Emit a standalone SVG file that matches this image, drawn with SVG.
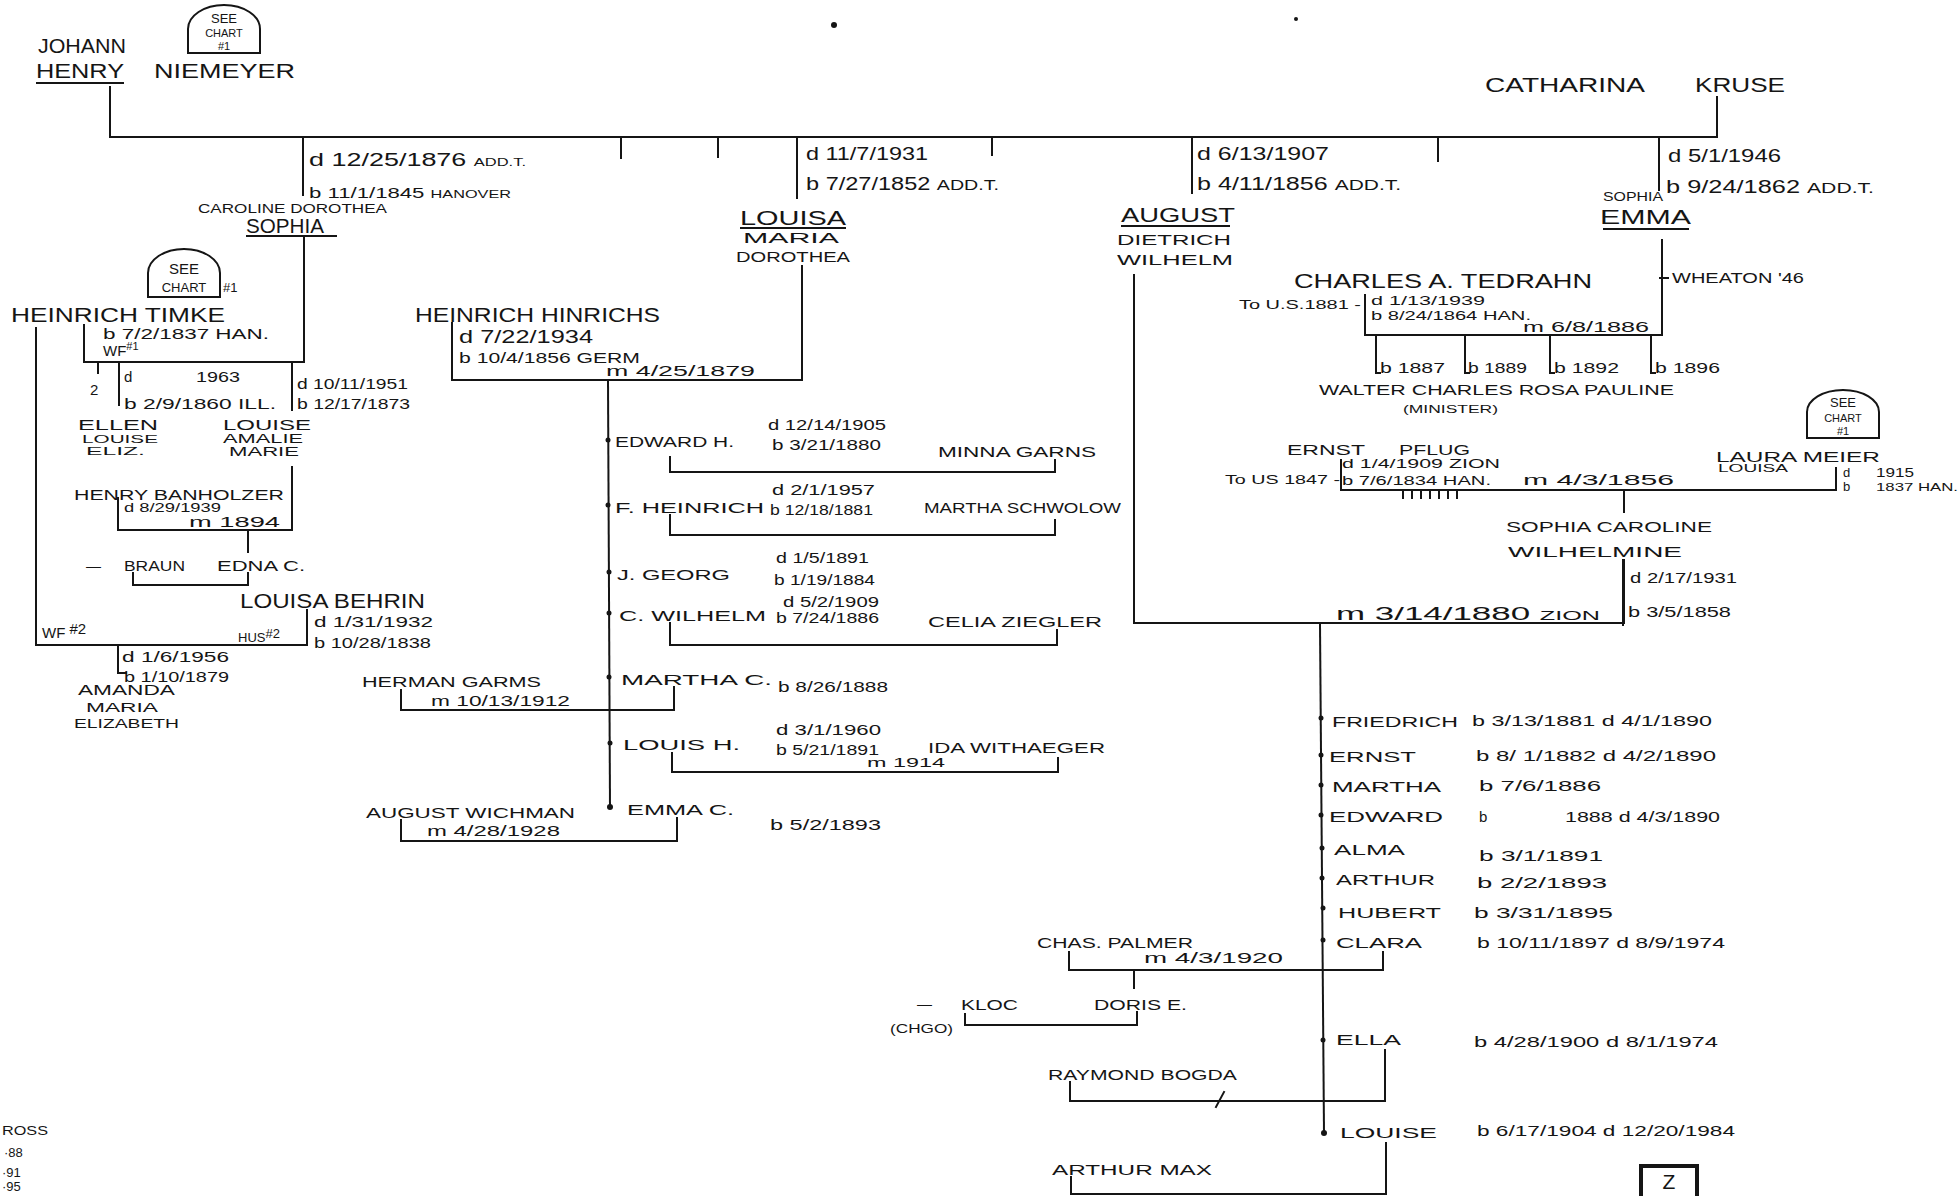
<svg xmlns="http://www.w3.org/2000/svg" width="1959" height="1196" viewBox="0 0 1959 1196">
<style>
text{font-family:"Liberation Sans",Arial,sans-serif;fill:#151515}
.n{font-size:20px}
.d{font-size:18px}
.m{font-size:15px}
.s{font-size:13px}
.xs{font-size:11px}
.c{fill:none;stroke:#151515;stroke-width:2;stroke-linecap:square}
.t{fill:none;stroke:#151515;stroke-width:2}
.dot{fill:#151515}
</style>
<rect width="1959" height="1196" fill="#fff"/>

<g id="connectors" class="c">
<path d="M110,87 V137 H1717 V97"/>
<path d="M621,137 V158 M718,137 V157 M992,137 V155 M1438,137 V161"/>
<path d="M303,137 V195 M797,137 V198 M1192,137 V193 M1659,137 V190"/>
<path d="M304,237 V362 H84 V325"/>
<path d="M36,328 V645 H307 V610"/>
<path d="M98,362 V373 M119,362 V405 M292,362 V410"/>
<path d="M292,467 V530 H118 V498 M248,530 V552"/>
<path d="M133,573 V585 H248 V573"/>
<path d="M118,645 V673 H126"/>
<path d="M452,323 V380 H802 V266"/>
<path d="M608,380 L610,807"/>
<path d="M670,457 V472 H1055 V460"/>
<path d="M670,515 V535 H1055 V520"/>
<path d="M670,623 V645 H1057 V630"/>
<path d="M401,690 V710 H674 V687"/>
<path d="M672,753 V772 H1058 V758"/>
<path d="M401,820 V841 H677 V818"/>
<path d="M1134,275 V623 H1624 V560"/>
<path d="M1365,295 V335 H1662 V240"/>
<path d="M1660,278 H1668"/>
<path d="M1376,335 V373 H1380 M1465,335 V373 H1469 M1550,335 V373 H1554 M1651,335 V373 H1655"/>
<path d="M1341,460 V490 H1836 V468"/>
<path d="M1403,492 V498 M1412,492 V498 M1421,492 V498 M1430,492 V498 M1439,492 V498 M1448,492 V498 M1457,492 V498"/>
<path d="M1624,490 V512 M1623,560 V625"/>
<path d="M1320,625 L1324,1133"/>
<path d="M1069,952 V970 H1383 V952 M1134,970 V988"/>
<path d="M965,1014 V1025 H1137 V1012"/>
<path d="M1070,1082 V1101 H1385 V1050 M1216,1107 L1224,1092"/>
<path d="M1071,1177 V1194 H1386 V1143"/>
</g>
<g id="child-dots" class="dot">
<circle cx="608" cy="440" r="2.5"/><circle cx="608" cy="505" r="2.5"/><circle cx="609" cy="572" r="2.5"/><circle cx="609" cy="613" r="2.5"/><circle cx="609" cy="677" r="2.5"/><circle cx="610" cy="743" r="2.5"/><circle cx="610" cy="807" r="3"/>
<circle cx="1321" cy="718" r="2.5"/><circle cx="1321" cy="755" r="2.5"/><circle cx="1321" cy="785" r="2.5"/><circle cx="1321" cy="815" r="2.5"/><circle cx="1322" cy="848" r="2.5"/><circle cx="1322" cy="878" r="2.5"/><circle cx="1323" cy="908" r="2.5"/><circle cx="1323" cy="940" r="2.5"/><circle cx="1323" cy="1040" r="2.5"/><circle cx="1324" cy="1133" r="3"/>
<circle cx="834" cy="25" r="3"/><circle cx="1296" cy="19" r="2"/>
</g>

<g id="n-johann">
<text class="n" x="38" y="53" textLength="88" lengthAdjust="spacingAndGlyphs">JOHANN</text>
<text class="n" x="36" y="78" textLength="88" lengthAdjust="spacingAndGlyphs">HENRY</text>
<path class="t" d="M36,83 H124"/>
<text class="n" x="154" y="78" textLength="141" lengthAdjust="spacingAndGlyphs">NIEMEYER</text>
<path class="t" d="M188,53 V29 A36,24 0 0 1 260,29 V53 Z"/>
<text class="s" x="224" y="23" text-anchor="middle">SEE</text>
<text class="xs" x="224" y="37" text-anchor="middle">CHART</text>
<text class="xs" x="224" y="50" text-anchor="middle">#1</text>
</g>

<g id="n-catharina">
<text class="n" x="1485" y="92" textLength="160" lengthAdjust="spacingAndGlyphs">CATHARINA</text>
<text class="n" x="1695" y="92" textLength="90" lengthAdjust="spacingAndGlyphs">KRUSE</text>
</g>

<g id="n-sophia">
<text class="d" x="309" y="166" textLength="217" lengthAdjust="spacingAndGlyphs">d 12/25/1876 <tspan class="xs">ADD.T.</tspan></text>
<text class="m" x="309" y="198" textLength="202" lengthAdjust="spacingAndGlyphs">b 11/1/1845 <tspan class="xs">HANOVER</tspan></text>
<text class="s" x="198" y="213" textLength="189" lengthAdjust="spacingAndGlyphs">CAROLINE DOROTHEA</text>
<text class="n" x="246" y="233" textLength="78" lengthAdjust="spacingAndGlyphs">SOPHIA</text>
<path class="t" d="M246,236 H337"/>
</g>

<g id="n-timke">
<path class="t" d="M148,297 V273 A36,24 0 0 1 220,273 V297 Z"/>
<text class="m" x="184" y="274" text-anchor="middle">SEE</text>
<text class="s" x="184" y="292" text-anchor="middle">CHART</text>
<text class="s" x="223" y="292">#1</text>
<text class="n" x="11" y="322" textLength="214" lengthAdjust="spacingAndGlyphs">HEINRICH  TIMKE</text>
<text class="m" x="103" y="339" textLength="166" lengthAdjust="spacingAndGlyphs">b 7/2/1837 HAN.</text>
<text class="m" x="103" y="356">WF<tspan class="xs" dy="-6">#1</tspan></text>
<text class="m" x="90" y="395">2</text>
</g>

<g id="n-ellen">
<text class="m" x="124" y="382">d</text>
<text class="m" x="196" y="382" textLength="44" lengthAdjust="spacingAndGlyphs">1963</text>
<text class="m" x="124" y="409" textLength="152" lengthAdjust="spacingAndGlyphs">b 2/9/1860 ILL.</text>
<text class="m" x="78" y="430" textLength="80" lengthAdjust="spacingAndGlyphs">ELLEN</text>
<text class="xs" x="82" y="443" textLength="76" lengthAdjust="spacingAndGlyphs">LOUISE</text>
<text class="xs" x="86" y="455" textLength="59" lengthAdjust="spacingAndGlyphs">ELIZ.</text>
</g>

<g id="n-louise-timke">
<text class="m" x="297" y="389" textLength="111" lengthAdjust="spacingAndGlyphs">d 10/11/1951</text>
<text class="m" x="297" y="409" textLength="113" lengthAdjust="spacingAndGlyphs">b 12/17/1873</text>
<text class="m" x="223" y="430" textLength="88" lengthAdjust="spacingAndGlyphs">LOUISE</text>
<text class="s" x="223" y="443" textLength="80" lengthAdjust="spacingAndGlyphs">AMALIE</text>
<text class="s" x="229" y="456" textLength="70" lengthAdjust="spacingAndGlyphs">MARIE</text>
</g>

<g id="n-banholzer">
<text class="m" x="74" y="500" textLength="210" lengthAdjust="spacingAndGlyphs">HENRY BANHOLZER</text>
<text class="s" x="124" y="512" textLength="97" lengthAdjust="spacingAndGlyphs">d 8/29/1939</text>
<text class="m" x="189" y="527" textLength="91" lengthAdjust="spacingAndGlyphs">m 1894</text>
</g>

<g id="n-edna">
<text class="m" x="86" y="571">—</text>
<text class="m" x="124" y="571" textLength="61" lengthAdjust="spacingAndGlyphs">BRAUN</text>
<text class="m" x="217" y="571" textLength="88" lengthAdjust="spacingAndGlyphs">EDNA C.</text>
</g>

<g id="n-behrin">
<text class="n" x="240" y="608" textLength="185" lengthAdjust="spacingAndGlyphs">LOUISA BEHRIN</text>
<text class="m" x="314" y="627" textLength="119" lengthAdjust="spacingAndGlyphs">d 1/31/1932</text>
<text class="m" x="314" y="648" textLength="117" lengthAdjust="spacingAndGlyphs">b 10/28/1838</text>
<text class="m" x="42" y="638">WF <tspan dy="-4">#2</tspan></text>
<text class="s" x="238" y="642">HUS<tspan dy="-4">#2</tspan></text>
</g>

<g id="n-amanda">
<text class="m" x="122" y="662" textLength="107" lengthAdjust="spacingAndGlyphs">d 1/6/1956</text>
<text class="m" x="124" y="682" textLength="105" lengthAdjust="spacingAndGlyphs">b 1/10/1879</text>
<text class="m" x="78" y="695" textLength="97" lengthAdjust="spacingAndGlyphs">AMANDA</text>
<text class="s" x="86" y="712" textLength="72" lengthAdjust="spacingAndGlyphs">MARIA</text>
<text class="s" x="74" y="728" textLength="105" lengthAdjust="spacingAndGlyphs">ELIZABETH</text>
</g>

<g id="n-louisa">
<text class="d" x="806" y="160" textLength="122" lengthAdjust="spacingAndGlyphs">d 11/7/1931</text>
<text class="d" x="806" y="190" textLength="193" lengthAdjust="spacingAndGlyphs">b 7/27/1852 <tspan class="m">ADD.T.</tspan></text>
<text class="n" x="740" y="225" textLength="106" lengthAdjust="spacingAndGlyphs">LOUISA</text>
<path class="t" d="M740,228 H846"/>
<text class="m" x="743" y="243" textLength="96" lengthAdjust="spacingAndGlyphs">MARIA</text>
<text class="m" x="736" y="262" textLength="114" lengthAdjust="spacingAndGlyphs">DOROTHEA</text>
</g>

<g id="n-hinrichs">
<text class="n" x="415" y="322" textLength="245" lengthAdjust="spacingAndGlyphs">HEINRICH HINRICHS</text>
<text class="d" x="459" y="343" textLength="134" lengthAdjust="spacingAndGlyphs">d 7/22/1934</text>
<text class="m" x="459" y="363" textLength="181" lengthAdjust="spacingAndGlyphs">b 10/4/1856 GERM</text>
<text class="m" x="606" y="376" textLength="149" lengthAdjust="spacingAndGlyphs">m 4/25/1879</text>
</g>

<g id="n-edward-h">
<text class="m" x="615" y="447" textLength="119" lengthAdjust="spacingAndGlyphs">EDWARD H.</text>
<text class="m" x="768" y="430" textLength="118" lengthAdjust="spacingAndGlyphs">d 12/14/1905</text>
<text class="m" x="772" y="450" textLength="109" lengthAdjust="spacingAndGlyphs">b 3/21/1880</text>
<text class="m" x="938" y="457" textLength="158" lengthAdjust="spacingAndGlyphs">MINNA GARNS</text>
</g>

<g id="n-f-heinrich">
<text class="m" x="615" y="513" textLength="149" lengthAdjust="spacingAndGlyphs">F. HEINRICH</text>
<text class="m" x="772" y="495" textLength="103" lengthAdjust="spacingAndGlyphs">d 2/1/1957</text>
<text class="m" x="770" y="515" textLength="103" lengthAdjust="spacingAndGlyphs">b 12/18/1881</text>
<text class="m" x="924" y="513" textLength="197" lengthAdjust="spacingAndGlyphs">MARTHA SCHWOLOW</text>
</g>

<g id="n-j-georg">
<text class="m" x="617" y="580" textLength="113" lengthAdjust="spacingAndGlyphs">J. GEORG</text>
<text class="m" x="776" y="563" textLength="93" lengthAdjust="spacingAndGlyphs">d 1/5/1891</text>
<text class="m" x="774" y="585" textLength="101" lengthAdjust="spacingAndGlyphs">b 1/19/1884</text>
</g>

<g id="n-c-wilhelm">
<text class="m" x="619" y="621" textLength="147" lengthAdjust="spacingAndGlyphs">C. WILHELM</text>
<text class="m" x="783" y="607" textLength="96" lengthAdjust="spacingAndGlyphs">d 5/2/1909</text>
<text class="m" x="776" y="623" textLength="103" lengthAdjust="spacingAndGlyphs">b 7/24/1886</text>
<text class="m" x="928" y="627" textLength="174" lengthAdjust="spacingAndGlyphs">CELIA ZIEGLER</text>
</g>

<g id="n-martha-c">
<text class="m" x="621" y="685" textLength="151" lengthAdjust="spacingAndGlyphs">MARTHA  C.</text>
<text class="m" x="778" y="692" textLength="110" lengthAdjust="spacingAndGlyphs">b 8/26/1888</text>
<text class="m" x="362" y="687" textLength="179" lengthAdjust="spacingAndGlyphs">HERMAN GARMS</text>
<text class="m" x="431" y="706" textLength="139" lengthAdjust="spacingAndGlyphs">m 10/13/1912</text>
</g>

<g id="n-louis-h">
<text class="m" x="623" y="750" textLength="117" lengthAdjust="spacingAndGlyphs">LOUIS  H.</text>
<text class="m" x="776" y="735" textLength="105" lengthAdjust="spacingAndGlyphs">d 3/1/1960</text>
<text class="m" x="776" y="755" textLength="103" lengthAdjust="spacingAndGlyphs">b 5/21/1891</text>
<text class="m" x="928" y="753" textLength="177" lengthAdjust="spacingAndGlyphs">IDA WITHAEGER</text>
<text class="s" x="867" y="767" textLength="78" lengthAdjust="spacingAndGlyphs">m 1914</text>
</g>

<g id="n-emma-c">
<text class="m" x="627" y="815" textLength="107" lengthAdjust="spacingAndGlyphs">EMMA  C.</text>
<text class="m" x="770" y="830" textLength="111" lengthAdjust="spacingAndGlyphs">b 5/2/1893</text>
<text class="m" x="366" y="818" textLength="209" lengthAdjust="spacingAndGlyphs">AUGUST WICHMAN</text>
<text class="m" x="427" y="836" textLength="133" lengthAdjust="spacingAndGlyphs">m 4/28/1928</text>
</g>

<g id="n-august">
<text class="d" x="1197" y="160" textLength="132" lengthAdjust="spacingAndGlyphs">d 6/13/1907</text>
<text class="d" x="1197" y="190" textLength="204" lengthAdjust="spacingAndGlyphs">b 4/11/1856 <tspan class="m">ADD.T.</tspan></text>
<text class="n" x="1121" y="222" textLength="114" lengthAdjust="spacingAndGlyphs">AUGUST</text>
<path class="t" d="M1121,226 H1230"/>
<text class="m" x="1117" y="245" textLength="114" lengthAdjust="spacingAndGlyphs">DIETRICH</text>
<text class="m" x="1117" y="265" textLength="116" lengthAdjust="spacingAndGlyphs">WILHELM</text>
</g>

<g id="n-emma">
<text class="d" x="1668" y="162" textLength="113" lengthAdjust="spacingAndGlyphs">d 5/1/1946</text>
<text class="d" x="1666" y="193" textLength="208" lengthAdjust="spacingAndGlyphs">b 9/24/1862 <tspan class="m">ADD.T.</tspan></text>
<text x="1603" y="201" font-size="12" textLength="60" lengthAdjust="spacingAndGlyphs">SOPHIA</text>
<text class="n" x="1600" y="224" textLength="91" lengthAdjust="spacingAndGlyphs">EMMA</text>
<path class="t" d="M1603,229 H1689"/>
<text class="m" x="1672" y="283" textLength="132" lengthAdjust="spacingAndGlyphs">WHEATON '46</text>
</g>

<g id="n-tedrahn">
<text class="n" x="1294" y="288" textLength="298" lengthAdjust="spacingAndGlyphs">CHARLES  A. TEDRAHN</text>
<text class="s" x="1239" y="309" textLength="122" lengthAdjust="spacingAndGlyphs">To U.S.1881 -</text>
<text class="s" x="1371" y="305" textLength="114" lengthAdjust="spacingAndGlyphs">d 1/13/1939</text>
<text class="s" x="1371" y="320" textLength="160" lengthAdjust="spacingAndGlyphs">b 8/24/1864 HAN.</text>
<text class="m" x="1523" y="332" textLength="126" lengthAdjust="spacingAndGlyphs">m 6/8/1886</text>
</g>

<g id="n-tedrahn-children">
<text class="m" x="1380" y="373" textLength="65" lengthAdjust="spacingAndGlyphs">b 1887</text>
<text class="m" x="1468" y="373" textLength="59" lengthAdjust="spacingAndGlyphs">b 1889</text>
<text class="m" x="1554" y="373" textLength="65" lengthAdjust="spacingAndGlyphs">b 1892</text>
<text class="m" x="1655" y="373" textLength="65" lengthAdjust="spacingAndGlyphs">b 1896</text>
<text class="m" x="1319" y="395" textLength="355" lengthAdjust="spacingAndGlyphs">WALTER CHARLES ROSA PAULINE</text>
<text class="xs" x="1403" y="413" textLength="95" lengthAdjust="spacingAndGlyphs">(MINISTER)</text>
</g>

<g id="n-pflug">
<text class="m" x="1287" y="455" textLength="78" lengthAdjust="spacingAndGlyphs">ERNST</text>
<text class="m" x="1399" y="455" textLength="71" lengthAdjust="spacingAndGlyphs">PFLUG</text>
<text class="s" x="1342" y="468" textLength="158" lengthAdjust="spacingAndGlyphs">d 1/4/1909 ZION</text>
<text class="s" x="1225" y="484" textLength="115" lengthAdjust="spacingAndGlyphs">To US 1847 -</text>
<text class="s" x="1342" y="485" textLength="149" lengthAdjust="spacingAndGlyphs">b 7/6/1834 HAN.</text>
<text class="m" x="1523" y="485" textLength="151" lengthAdjust="spacingAndGlyphs">m 4/3/1856</text>
</g>

<g id="n-meier">
<path class="t" d="M1807,438 V412 A36,22 0 0 1 1879,412 V438 Z"/>
<text class="s" x="1843" y="407" text-anchor="middle">SEE</text>
<text class="xs" x="1843" y="422" text-anchor="middle">CHART</text>
<text class="xs" x="1843" y="435" text-anchor="middle">#1</text>
<text class="m" x="1716" y="462" textLength="164" lengthAdjust="spacingAndGlyphs">LAURA MEIER</text>
<text class="xs" x="1718" y="472" textLength="70" lengthAdjust="spacingAndGlyphs">LOUISA</text>
<text class="s" x="1843" y="477">d</text>
<text class="s" x="1876" y="477" textLength="38" lengthAdjust="spacingAndGlyphs">1915</text>
<text class="s" x="1843" y="491">b</text>
<text class="xs" x="1876" y="491" textLength="82" lengthAdjust="spacingAndGlyphs">1837 HAN.</text>
</g>

<g id="n-sophia-caroline">
<text class="m" x="1506" y="532" textLength="206" lengthAdjust="spacingAndGlyphs">SOPHIA CAROLINE</text>
<text class="m" x="1508" y="557" textLength="174" lengthAdjust="spacingAndGlyphs">WILHELMINE</text>
<text class="m" x="1630" y="583" textLength="107" lengthAdjust="spacingAndGlyphs">d 2/17/1931</text>
<text class="m" x="1628" y="617" textLength="103" lengthAdjust="spacingAndGlyphs">b 3/5/1858</text>
<text class="d" x="1336" y="620" textLength="264" lengthAdjust="spacingAndGlyphs">m 3/14/1880 <tspan class="s">ZION</tspan></text>
</g>

<g id="n-august-children">
<text class="m" x="1332" y="727" textLength="126" lengthAdjust="spacingAndGlyphs">FRIEDRICH</text>
<text class="m" x="1472" y="726" textLength="240" lengthAdjust="spacingAndGlyphs">b 3/13/1881 d 4/1/1890</text>
<text class="m" x="1329" y="762" textLength="87" lengthAdjust="spacingAndGlyphs">ERNST</text>
<text class="m" x="1476" y="761" textLength="240" lengthAdjust="spacingAndGlyphs">b 8/  1/1882 d 4/2/1890</text>
<text class="m" x="1332" y="792" textLength="109" lengthAdjust="spacingAndGlyphs">MARTHA</text>
<text class="m" x="1479" y="791" textLength="122" lengthAdjust="spacingAndGlyphs">b 7/6/1886</text>
<text class="m" x="1329" y="822" textLength="114" lengthAdjust="spacingAndGlyphs">EDWARD</text>
<text class="m" x="1479" y="822">b</text>
<text class="m" x="1565" y="822" textLength="155" lengthAdjust="spacingAndGlyphs">1888 d 4/3/1890</text>
<text class="m" x="1334" y="855" textLength="71" lengthAdjust="spacingAndGlyphs">ALMA</text>
<text class="m" x="1479" y="861" textLength="124" lengthAdjust="spacingAndGlyphs">b 3/1/1891</text>
<text class="m" x="1336" y="885" textLength="99" lengthAdjust="spacingAndGlyphs">ARTHUR</text>
<text class="m" x="1477" y="888" textLength="130" lengthAdjust="spacingAndGlyphs">b 2/2/1893</text>
<text class="m" x="1338" y="918" textLength="103" lengthAdjust="spacingAndGlyphs">HUBERT</text>
<text class="m" x="1474" y="918" textLength="139" lengthAdjust="spacingAndGlyphs">b 3/31/1895</text>
<text class="m" x="1336" y="948" textLength="86" lengthAdjust="spacingAndGlyphs">CLARA</text>
<text class="m" x="1477" y="948" textLength="248" lengthAdjust="spacingAndGlyphs">b 10/11/1897 d 8/9/1974</text>
<text class="m" x="1336" y="1045" textLength="65" lengthAdjust="spacingAndGlyphs">ELLA</text>
<text class="m" x="1474" y="1047" textLength="244" lengthAdjust="spacingAndGlyphs">b 4/28/1900 d 8/1/1974</text>
<text class="m" x="1340" y="1138" textLength="97" lengthAdjust="spacingAndGlyphs">LOUISE</text>
<text class="m" x="1477" y="1136" textLength="258" lengthAdjust="spacingAndGlyphs">b 6/17/1904 d 12/20/1984</text>
</g>

<g id="n-palmer">
<text class="m" x="1037" y="948" textLength="156" lengthAdjust="spacingAndGlyphs">CHAS. PALMER</text>
<text class="m" x="1144" y="963" textLength="139" lengthAdjust="spacingAndGlyphs">m 4/3/1920</text>
</g>

<g id="n-doris">
<text class="m" x="917" y="1009">—</text>
<text class="m" x="961" y="1010" textLength="57" lengthAdjust="spacingAndGlyphs">KLOC</text>
<text class="m" x="1094" y="1010" textLength="93" lengthAdjust="spacingAndGlyphs">DORIS E.</text>
<text class="s" x="890" y="1033" textLength="63" lengthAdjust="spacingAndGlyphs">(CHGO)</text>
</g>

<g id="n-bogda">
<text class="m" x="1048" y="1080" textLength="189" lengthAdjust="spacingAndGlyphs">RAYMOND BOGDA</text>
</g>

<g id="n-max">
<text class="m" x="1052" y="1175" textLength="160" lengthAdjust="spacingAndGlyphs">ARTHUR  MAX</text>
</g>

<g id="n-page-mark">
<rect x="1641" y="1166" width="56" height="50" fill="none" stroke="#151515" stroke-width="4"/>
<text x="1669" y="1189" font-size="21" text-anchor="middle">Z</text>
</g>

<g id="n-margin">
<text class="s" x="2" y="1135" textLength="46" lengthAdjust="spacingAndGlyphs">ROSS</text>
<text class="s" x="4" y="1157">·88</text>
<text class="s" x="2" y="1177">·91</text>
<text class="s" x="2" y="1191">·95</text>
</g>
</svg>
